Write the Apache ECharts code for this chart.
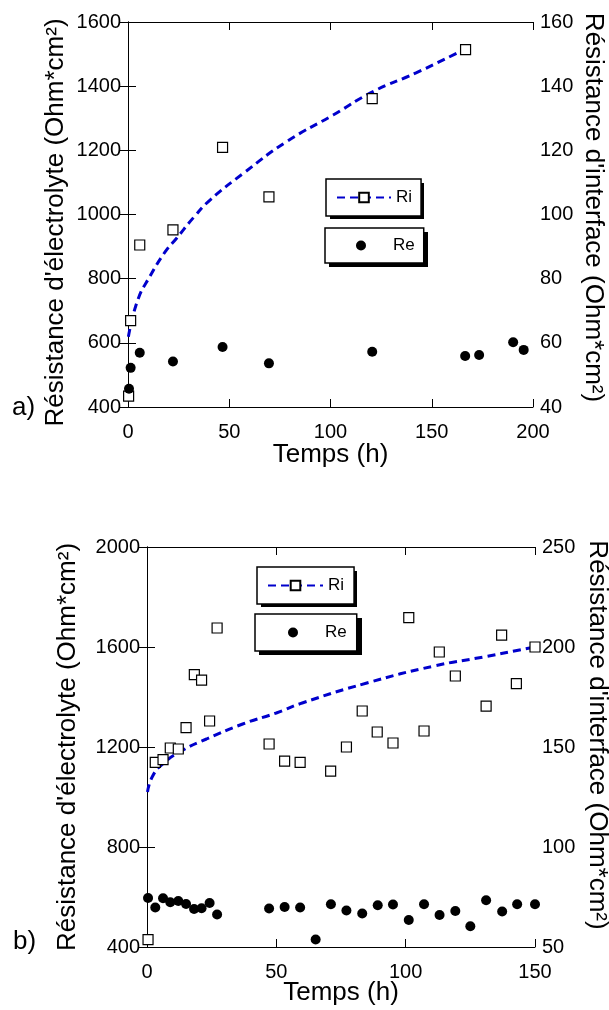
<!DOCTYPE html>
<html>
<head>
<meta charset="utf-8">
<script src="https://cdn.jsdelivr.net/npm/echarts@6/dist/echarts.min.js"></script>
<style>html,body{margin:0;padding:0;background:#fff}#c{width:609px;height:1010px}</style>
</head>
<body>
<div id="c"></div>
<script>
// ---- Chart a) ----
const topTimeRi = [0.3, 1.3, 5.8, 22.2, 46.7, 69.6, 120.6, 166.7];
const topRi = [43.4, 66.9, 90.5, 95.2, 120.9, 105.5, 136.1, 151.4];
const topTimeRe = [0.5, 1.3, 5.8, 22.2, 46.7, 69.6, 120.6, 166.5, 173.4, 190.2, 195.4];
const topRe = [457, 522, 569, 542, 587, 536, 572, 559, 562, 602, 578];
const topFitTime = [0.2, 4.8, 10.9, 18.4, 24, 32.7, 40.5, 56.9, 78.3, 101.3, 121, 142.5, 165.5];
const topFitRi = [61.9, 73.3, 80.8, 88.4, 92.6, 99.3, 104.5, 112.8, 122.7, 131, 138.3, 144.2, 151.3];
const topXTicks = [0, 50, 100, 150, 200];
const topLeftTicks = [400, 600, 800, 1000, 1200, 1400, 1600];
const topRightTicks = [40, 60, 80, 100, 120, 140, 160];

// ---- Chart b) ----
const botTimeRi = [0.4, 3.2, 6.2, 9.0, 12.1, 15.1, 18.3, 21.1, 24.2, 27.1, 47.2, 53.2, 59.2, 71.0, 77.1, 83.2, 89.0, 95.1, 101.2, 107.1, 113.0, 119.2, 131.1, 137.1, 142.8, 150];
const botRi = [53.7, 142.3, 143.7, 149.5, 149, 159.7, 186.2, 183.4, 163, 209.5, 151.5, 142.9, 142.3, 137.9, 150, 168, 157.5, 152, 214.7, 158, 197.5, 185.5, 170.4, 205.9, 181.7, 200];
const botTimeRe = [0.4, 3.2, 6.2, 9.0, 12.1, 15.1, 18.2, 21.1, 24.2, 27.1, 47.2, 53.2, 59.2, 65.2, 71.1, 77.1, 83.2, 89.2, 95.1, 101.2, 107.1, 113.1, 119.2, 125.0, 131.1, 137.3, 143.1, 150];
const botRe = [596, 558, 595, 579, 584, 572, 552, 555, 576, 530, 554, 560, 558, 430, 571, 546, 534, 567, 570, 508, 571, 528, 544, 483, 587, 542, 571, 571];
const botFitTime = [0.2, 2, 6, 14, 23, 37, 50, 60, 85, 111, 130, 144, 150];
const botFitRi = [127.5, 135, 141.5, 148.5, 154, 161.5, 167, 172, 182, 190.5, 195, 198.5, 200];
const botXTicks = [0, 50, 100, 150];
const botLeftTicks = [400, 800, 1200, 1600, 2000];
const botRightTicks = [50, 100, 150, 200, 250];

const xName = 'Temps (h)';
const leftName = "Résistance d'électrolyte (Ohm*cm²)";
const rightName = "Résistance d'interface (Ohm*cm²)";
const panelLabels = ['a)', 'b)'];
const legendRi = 'Ri', legendRe = 'Re';

const FONT = '"Liberation Sans", Arial, sans-serif';
const zip = (a, b) => a.map((v, i) => [v, b[i]]);
const step = t => t[1] - t[0];
const plain = v => String(v);

function xAxisPair(grid, ticks, gap) {
  const common = {
    gridIndex: grid, type: 'value', min: ticks[0], max: ticks[ticks.length - 1], interval: step(ticks),
    axisLine: { lineStyle: { color: '#000', width: 1 } },
    axisTick: { inside: true, length: 8, lineStyle: { color: '#000', width: 1 } },
    splitLine: { show: false }, nameMoveOverlap: false
  };
  return [
    Object.assign({}, common, {
      position: 'bottom',
      axisLabel: { color: '#000', fontSize: 20, fontFamily: FONT, margin: 15, formatter: plain },
      name: xName, nameLocation: 'middle', nameGap: gap,
      nameTextStyle: { color: '#000', fontSize: 26, fontFamily: FONT }
    }),
    Object.assign({}, common, { position: 'top', axisLabel: { show: false } })
  ];
}
function yAxisPair(grid, lt, rt, lgap, rgap, lpad, rpad) {
  const base = t => ({
    gridIndex: grid, type: 'value', min: t[0], max: t[t.length - 1], interval: step(t),
    axisLine: { show: true, lineStyle: { color: '#000', width: 1 } },
    axisTick: { show: true, inside: true, length: 8, lineStyle: { color: '#000', width: 1 } },
    axisLabel: { color: '#000', fontSize: 20, fontFamily: FONT, margin: 7, formatter: plain },
    splitLine: { show: false }, nameLocation: 'middle', nameMoveOverlap: false
  });
  return [
    Object.assign(base(lt), { position: 'left', name: leftName, nameGap: lgap, nameRotate: 90,
      nameTextStyle: { color: '#000', fontSize: 26, fontFamily: FONT, padding: lpad } }),
    Object.assign(base(rt), { position: 'right', name: rightName, nameGap: rgap, nameRotate: -90,
      nameTextStyle: { color: '#000', fontSize: 26, fontFamily: FONT, padding: rpad } })
  ];
}
const fitStyle = { color: '#0000cc', width: 3, type: [8, 5] };
function seriesFor(g, fitT, fitV, tRi, vRi, tRe, vRe) {
  return [
    { name: legendRi, type: 'line', xAxisIndex: g * 2, yAxisIndex: g * 2 + 1, data: zip(fitT, fitV),
      smooth: 0.5, symbol: 'emptyRect', showSymbol: false,
      lineStyle: fitStyle, itemStyle: { color: '#000' }, z: 2, silent: true },
    { name: 'Ri points', type: 'scatter', xAxisIndex: g * 2, yAxisIndex: g * 2 + 1, data: zip(tRi, vRi),
      symbol: 'rect', symbolSize: 10, itemStyle: { color: '#fff', borderColor: '#000', borderWidth: 1.2, opacity: 1 }, z: 3 },
    { name: legendRe, type: 'scatter', xAxisIndex: g * 2, yAxisIndex: g * 2, data: zip(tRe, vRe),
      symbol: 'circle', symbolSize: 10, itemStyle: { color: '#000', opacity: 1 }, z: 3 }
  ];
}
function legendBox(name, left, top, w, h, pad, textPad) {
  return {
    data: [name], left: left, top: top, orient: 'horizontal', itemWidth: w, itemHeight: h, itemGap: 0,
    padding: pad, backgroundColor: '#fff', borderColor: '#000', borderWidth: 1.5, borderRadius: 0,
    textStyle: { color: '#000', fontSize: 17, fontFamily: FONT, padding: textPad }, selectedMode: false, z: 5
  };
}
function shadowRect(x, y, w, h) {
  return { type: 'rect', left: x + 4, top: y + 4, z: 3, shape: { width: w, height: h }, style: { fill: '#000' } };
}

const chart = echarts.init(document.getElementById('c'), null, { renderer: 'canvas' });
chart.setOption({
  backgroundColor: '#fff',
  animation: false,
  grid: [
    { left: 128, right: 76, top: 22, bottom: 603, containLabel: false, outerBoundsMode: 'none' },
    { left: 147, right: 74, top: 547, bottom: 63, containLabel: false, outerBoundsMode: 'none' }
  ],
  xAxis: [].concat(xAxisPair(0, topXTicks, 35), xAxisPair(1, botXTicks, 33)),
  yAxis: [].concat(
    yAxisPair(0, topLeftTicks, topRightTicks, 59, 47, [0, 16, 0, 0], [0, 14, 0, 0]),
    yAxisPair(1, botLeftTicks, botRightTicks, 66, 49, 0, [0, 24, 0, 0])),
  legend: [
    legendBox(legendRi, 326, 179, 54, 12, [10, 9, 10, 10], 0),
    legendBox(legendRe, 325, 228, 10, 10, [9, 9, 9, 31], [0, 0, 0, 22]),
    legendBox(legendRi, 257, 567, 55, 12, [10, 10, 10, 10], 0),
    legendBox(legendRe, 255, 614, 10, 10, [10, 10, 10, 33], [0, 0, 0, 22])
  ],
  graphic: [
    shadowRect(326, 179, 94, 36),
    shadowRect(325, 228, 99, 35),
    shadowRect(257, 567, 96, 36),
    shadowRect(255, 614, 103, 37),
    { type: 'text', left: 12, top: 395, style: { text: panelLabels[0], fill: '#000', font: '26px ' + FONT } },
    { type: 'text', left: 13, top: 929, style: { text: panelLabels[1], fill: '#000', font: '26px ' + FONT } }
  ],
  series: [].concat(
    seriesFor(0, topFitTime, topFitRi, topTimeRi, topRi, topTimeRe, topRe),
    seriesFor(1, botFitTime, botFitRi, botTimeRi, botRi, botTimeRe, botRe)
  )
});
</script>
</body>
</html>
